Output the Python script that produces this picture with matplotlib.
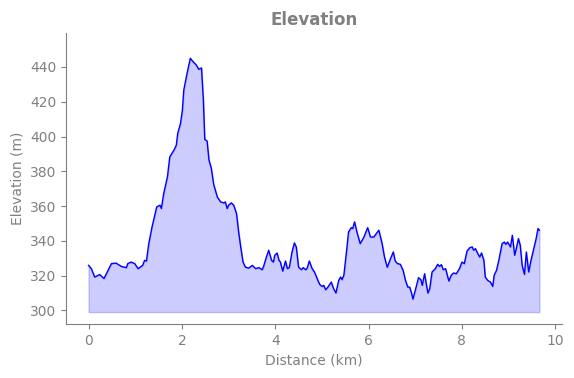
import matplotlib
matplotlib.use("Agg")
import matplotlib.pyplot as plt

# distance (km) and elevation (m)
distance_km = [
    0.00, 0.06, 0.13, 0.24, 0.33, 0.49, 0.59, 0.70, 0.81, 0.84,
    0.91, 0.99, 1.06, 1.16, 1.20, 1.24, 1.29, 1.36, 1.46, 1.53,
    1.56, 1.61, 1.69, 1.74, 1.83, 1.88, 1.91, 1.97, 2.01, 2.04,
    2.11, 2.18, 2.24, 2.31, 2.36, 2.42, 2.46, 2.49, 2.54, 2.58,
    2.63, 2.68, 2.76, 2.83, 2.90, 2.93, 2.97, 3.00, 3.06, 3.11,
    3.17, 3.22, 3.26, 3.31, 3.36, 3.43, 3.51, 3.58, 3.65, 3.72,
    3.75, 3.81, 3.86, 3.92, 3.96, 3.99, 4.04, 4.08, 4.11, 4.16,
    4.22, 4.26, 4.30, 4.36, 4.41, 4.45, 4.50, 4.56, 4.60, 4.65,
    4.68, 4.73, 4.79, 4.84, 4.90, 4.95, 5.00, 5.04, 5.08, 5.12,
    5.20, 5.25, 5.30, 5.36, 5.40, 5.43, 5.47, 5.53, 5.57, 5.63,
    5.66, 5.70, 5.75, 5.82, 5.90, 5.98, 6.04, 6.11, 6.22, 6.29,
    6.34, 6.40, 6.43, 6.47, 6.53, 6.57, 6.62, 6.68, 6.74, 6.79,
    6.84, 6.88, 6.92, 6.95, 7.00, 7.07, 7.12, 7.15, 7.20, 7.27,
    7.31, 7.36, 7.43, 7.48, 7.52, 7.56, 7.60, 7.65, 7.72, 7.77,
    7.82, 7.88, 7.95, 8.00, 8.05, 8.11, 8.17, 8.22, 8.25, 8.29,
    8.34, 8.38, 8.42, 8.47, 8.50, 8.55, 8.61, 8.66, 8.69, 8.74,
    8.79, 8.86, 8.91, 8.94, 8.98, 9.04, 9.08, 9.13, 9.17, 9.21,
    9.25, 9.29, 9.34, 9.38, 9.43, 9.48, 9.54, 9.59, 9.63, 9.66,
]
elevation_m = [
    325.9, 324.0, 319.2, 320.6, 318.3, 326.9, 327.2, 325.3, 324.6, 326.9,
    327.8, 326.9, 324.0, 325.9, 328.8, 328.4, 338.4, 348.0, 359.5, 360.5,
    358.6, 367.2, 376.8, 388.3, 392.2, 395.0, 401.8, 407.5, 415.2, 426.7,
    436.3, 445.0, 443.0, 441.1, 438.7, 439.4, 421.0, 398.3, 397.4, 386.4,
    381.8, 372.6, 365.1, 362.4, 361.8, 362.4, 358.6, 360.5, 361.8, 360.5,
    355.7, 344.2, 336.5, 327.8, 324.9, 324.3, 325.9, 324.0, 324.6, 323.4,
    325.3, 330.7, 334.6, 328.8, 327.8, 331.7, 333.0, 328.8, 327.8, 322.6,
    328.4, 324.0, 324.6, 333.6, 338.8, 336.5, 324.9, 323.4, 324.6, 323.4,
    324.0, 328.4, 324.0, 322.1, 318.3, 315.0, 313.8, 314.4, 311.9, 313.1,
    316.3, 312.5, 310.0, 317.3, 319.2, 317.7, 320.2, 334.6, 345.1, 347.6,
    347.1, 350.9, 345.1, 338.4, 342.2, 347.6, 342.2, 342.2, 346.1, 338.4,
    330.7, 324.8, 326.9, 329.8, 333.6, 328.4, 326.9, 326.5, 323.0, 317.3,
    313.4, 313.4, 310.0, 306.5, 311.5, 318.8, 317.7, 314.4, 321.1, 310.0,
    312.5, 322.1, 324.0, 326.5, 325.3, 326.3, 323.4, 324.0, 316.9, 320.2,
    321.5, 321.1, 324.2, 327.8, 326.9, 334.2, 336.1, 336.5, 334.6, 335.5,
    332.7, 330.7, 333.0, 328.8, 319.2, 317.3, 316.3, 313.8, 320.2, 323.0,
    328.8, 338.4, 339.3, 338.0, 339.3, 336.5, 343.2, 331.7, 336.1, 341.3,
    337.4, 325.9, 320.7, 333.6, 322.1, 328.8, 335.5, 341.3, 347.1, 346.1,
]
baseline = 299

fig = plt.figure(figsize=(5.74, 3.78), dpi=100)
ax = fig.add_axes([0.115, 0.143, 0.864, 0.770])

ax.plot(distance_km, elevation_m, color="blue", linewidth=1)
ax.fill_between(distance_km, elevation_m, baseline, color="blue", alpha=0.2)

ax.set_ylim(292.2, 459.6)
ax.set_title("Elevation", color="grey", fontsize=12, fontweight="bold")
ax.set_xlabel("Distance (km)", color="grey")
ax.set_ylabel("Elevation (m)", color="grey")

for side in ["top", "right"]:
    ax.spines[side].set_visible(False)
for side in ["left", "bottom"]:
    ax.spines[side].set_color("grey")
ax.tick_params(colors="grey")

fig.savefig("out.png", dpi=100)
